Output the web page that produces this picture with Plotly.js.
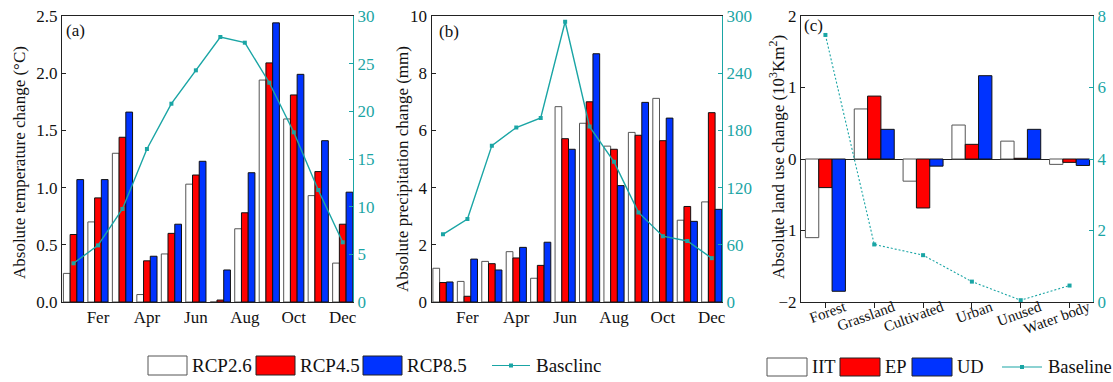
<!DOCTYPE html>
<html>
<head>
<meta charset="utf-8">
<script src="https://cdn.plot.ly/plotly-3.0.1.min.js"></script>
<style>
  html, body { margin: 0; padding: 0; background: #fff; }
  #chart { width: 1113px; height: 382px; }
</style>
</head>
<body>
<div id="chart"></div>
<script>
// ---- Monthly climate change (panels a, b) ----
const months = [1, 2, 3, 4, 5, 6, 7, 8, 9, 10, 11, 12];
const monthTickVals = [2, 4, 6, 8, 10, 12];
const monthTickText = ['Fer', 'Apr', 'Jun', 'Aug', 'Oct', 'Dec'];

// temperature change (°C) and baseline temperature
const tempRcp26 = [0.25, 0.70, 1.30, 0.065, 0.42, 1.03, 0.00, 0.64, 1.94, 1.60, 0.93, 0.34];
const tempRcp45 = [0.59, 0.91, 1.44, 0.36, 0.60, 1.11, 0.017, 0.78, 2.09, 1.81, 1.14, 0.68];
const tempRcp85 = [1.07, 1.07, 1.66, 0.40, 0.68, 1.23, 0.28, 1.13, 2.44, 1.99, 1.41, 0.96];
const tempBaseline = [4.06, 5.94, 9.76, 16.05, 20.8, 24.3, 27.8, 27.2, 23.0, 17.8, 11.75, 6.26];

// precipitation change (mm) and baseline precipitation
const precRcp26 = [1.18, 0.72, 1.42, 1.76, 0.83, 6.83, 6.25, 5.45, 5.93, 7.12, 2.86, 3.50];
const precRcp45 = [0.68, 0.20, 1.34, 1.54, 1.28, 5.71, 7.00, 5.34, 5.83, 5.64, 3.34, 6.62];
const precRcp85 = [0.70, 1.50, 1.12, 1.91, 2.09, 5.34, 8.68, 4.07, 6.98, 6.43, 2.82, 3.24];
const precBaseline = [71, 87, 164, 183, 193, 294, 184, 147, 94, 69, 64, 46];

// ---- Land use change (panel c) ----
const landTypes = ['Forest', 'Grassland', 'Cultivated', 'Urban', 'Unused', 'Water body'];
const landIIT = [-1.10, 0.70, -0.31, 0.475, 0.25, -0.075];
const landEP = [-0.40, 0.88, -0.685, 0.205, 0.01, -0.047];
const landUD = [-1.85, 0.415, -0.10, 1.165, 0.415, -0.09];
const landBaseline = [7.47, 1.61, 1.31, 0.57, 0.05, 0.46];

// legend labels
const scenarioNames = ['RCP2.6', 'RCP4.5', 'RCP8.5'];
const scenarioBaselineName = 'Basclinc';
const landScenarioNames = ['IIT', 'EP', 'UD'];
const landBaselineName = 'Baseline';

// ---- styling ----
const W = 1113, H = 382;
const FONT = '"Liberation Serif", "Times New Roman", serif';
const TEAL = '#1aa5a5';
const FILLS = ['#ffffff', '#ff0000', '#0033ff'];
const EDGES = ['#555555', '#111111', '#111111'];

const px = v => v / W;            // pixel x -> paper
const py = v => 1 - v / H;        // pixel y (from top) -> paper

function barSet(x, series, names, xa, ya, w) {
  return series.map((y, k) => ({
    type: 'bar', x: x, y: y, name: names[k], xaxis: xa, yaxis: ya,
    width: w, offset: -1.5 * w + k * w,
    marker: { color: FILLS[k], line: { color: EDGES[k], width: 1 } },
    showlegend: false, hoverinfo: 'x+y'
  }));
}
function baseLine(x, y, name, xa, ya, dash, lw) {
  return {
    type: 'scatter', mode: 'lines+markers', x: x, y: y, name: name,
    xaxis: xa, yaxis: ya,
    line: { color: TEAL, width: lw, dash: dash },
    marker: { symbol: 'square', size: 4, color: TEAL },
    showlegend: false
  };
}

const BW = 0.275;
const traces = [
  ...barSet(months, [tempRcp26, tempRcp45, tempRcp85], scenarioNames, 'x', 'y', BW),
  baseLine(months, tempBaseline, scenarioBaselineName, 'x', 'y2', 'solid', 1.4),
  ...barSet(months, [precRcp26, precRcp45, precRcp85], scenarioNames, 'x2', 'y3', BW),
  baseLine(months, precBaseline, scenarioBaselineName, 'x2', 'y4', 'solid', 1.4),
  ...barSet(landTypes, [landIIT, landEP, landUD], landScenarioNames, 'x3', 'y5', 0.273),
  baseLine(landTypes, landBaseline, landBaselineName, 'x3', 'y6', '2px,2px', 1.1)
];

const yDom = [py(302), py(16)];
const tickFont = { family: FONT, size: 17, color: '#111' };
const tealFont = { family: FONT, size: 17, color: TEAL };

function monthX(dom, anchor) {
  return {
    domain: dom, anchor: anchor, range: [0.53, 12.42],
    tickmode: 'array', tickvals: monthTickVals, ticktext: monthTickText,
    ticks: '', showline: true, linecolor: '#222', linewidth: 1, mirror: true,
    showgrid: false, zeroline: false, tickfont: tickFont, fixedrange: true
  };
}
function leftY(anchor, range, dtick, fmt) {
  return {
    domain: yDom, anchor: anchor, range: range, dtick: dtick, tickformat: fmt,
    ticks: 'inside', ticklen: 4, tickcolor: '#222',
    showline: true, linecolor: '#222', linewidth: 1,
    showgrid: false, zeroline: false, tickfont: tickFont, fixedrange: true
  };
}
function rightY(over, anchor, range, dtick) {
  return {
    overlaying: over, side: 'right', anchor: anchor, range: range, dtick: dtick,
    ticks: 'inside', ticklen: 4, tickcolor: TEAL,
    showline: true, linecolor: TEAL, linewidth: 1.2,
    showgrid: false, zeroline: false, tickfont: tealFont, fixedrange: true
  };
}

const layout = {
  width: W, height: H,
  margin: { l: 0, r: 0, t: 0, b: 0 },
  paper_bgcolor: '#fff', plot_bgcolor: '#fff',
  font: { family: FONT, color: '#111' },
  showlegend: false,
  xaxis: monthX([px(62), px(353)], 'y'),
  yaxis: leftY('x', [0, 2.5], 0.5, '.1f'),
  yaxis2: rightY('y', 'x', [0, 30], 5),
  xaxis2: monthX([px(431.5), px(722)], 'y3'),
  yaxis3: leftY('x2', [0, 10], 2, ''),
  yaxis4: rightY('y3', 'x2', [0, 300], 60),
  xaxis3: {
    domain: [px(801), px(1093)], anchor: 'y5', type: 'category',
    categoryorder: 'array', categoryarray: landTypes, range: [-0.5, 5.48],
    ticks: 'outside', ticklen: 5, tickcolor: '#222', tickangle: -20,
    ticklabelshift: 19, ticklabelstandoff: -15,
    showline: true, linecolor: '#222', linewidth: 1, mirror: true,
    showgrid: false, zeroline: false,
    tickfont: { family: FONT, size: 15, color: '#111' }, fixedrange: true
  },
  yaxis5: Object.assign(leftY('x3', [-2, 2], 1, ''), { zeroline: true, zerolinecolor: '#222', zerolinewidth: 1 }),
  yaxis6: rightY('y5', 'x3', [0, 8], 2),
  shapes: [],
  annotations: []
};

// axis titles
const yTitles = [
  { text: 'Absolute temperature change (°C)', x: 19, y: 163 },
  { text: 'Absolute precipitation change (mm)', x: 402, y: 169 },
  { text: 'Absolute land use change (10<sup>3</sup>Km<sup>2</sup>)', x: 777, y: 157 }
];
yTitles.forEach(t => layout.annotations.push({
  xref: 'paper', yref: 'paper', x: px(t.x), y: py(t.y), text: t.text,
  textangle: -90, showarrow: false, xanchor: 'center', yanchor: 'middle',
  font: { family: FONT, size: 17, color: '#111' }
}));

// panel tags
[['(a)', 64, 30], ['(b)', 437, 32], ['(c)', 802, 25]].forEach(([t, x, y]) =>
  layout.annotations.push({
    xref: 'paper', yref: 'paper', x: px(x), y: py(y), text: t, showarrow: false,
    xanchor: 'left', yanchor: 'middle', font: { family: FONT, size: 17, color: '#111' }
  }));

// hand-built legends beneath the panels
function legendRow(names, baseName, boxX, boxW, boxTop, boxBot, lineX0, lineX1, textSize) {
  const yc = (boxTop + boxBot) / 2;
  names.forEach((n, k) => {
    layout.shapes.push({
      type: 'rect', xref: 'paper', yref: 'paper',
      x0: px(boxX[k]), x1: px(boxX[k] + boxW), y0: py(boxBot), y1: py(boxTop),
      fillcolor: FILLS[k], line: { color: k === 0 ? '#555' : '#222', width: 1 }
    });
    layout.annotations.push({
      xref: 'paper', yref: 'paper', x: px(boxX[k] + boxW + 3), y: py(yc), text: n,
      showarrow: false, xanchor: 'left', yanchor: 'middle',
      font: { family: FONT, size: textSize, color: '#111' }
    });
  });
  layout.shapes.push({
    type: 'line', xref: 'paper', yref: 'paper',
    x0: px(lineX0), x1: px(lineX1), y0: py(yc), y1: py(yc),
    line: { color: TEAL, width: 1.2 }
  });
  const mx = (lineX0 + lineX1) / 2;
  layout.shapes.push({
    type: 'rect', xref: 'paper', yref: 'paper',
    x0: px(mx - 2), x1: px(mx + 2), y0: py(yc + 2), y1: py(yc - 2),
    fillcolor: TEAL, line: { width: 0 }
  });
  layout.annotations.push({
    xref: 'paper', yref: 'paper', x: px(lineX1 + 4), y: py(yc), text: baseName,
    showarrow: false, xanchor: 'left', yanchor: 'middle',
    font: { family: FONT, size: textSize, color: '#111' }
  });
}
legendRow(scenarioNames, scenarioBaselineName, [148, 256, 363], 39, 356, 375, 492, 530, 19);
legendRow(landScenarioNames, landBaselineName, [767, 840, 912], 40, 358, 376, 1002, 1042, 18.5);

Plotly.newPlot('chart', traces, layout, { staticPlot: true, displayModeBar: false });
</script>
</body>
</html>
